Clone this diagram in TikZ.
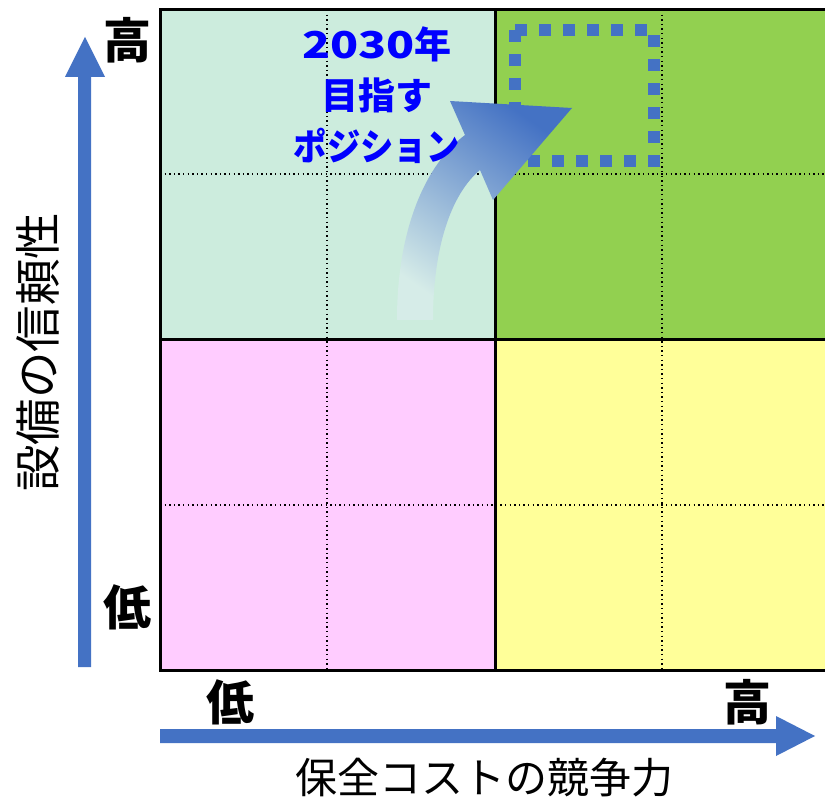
\documentclass[tikz,border=0pt]{standalone}
\usepackage{graphicx}
\usepackage{fontspec}
\newfontfamily\jp{Noto Sans CJK JP}
\definecolor{axisblue}{HTML}{4472C4}
\definecolor{qmint}{HTML}{CCECDD}
\definecolor{qgreen}{HTML}{92D050}
\definecolor{qpink}{HTML}{FFCCFF}
\definecolor{qyellow}{HTML}{FFFF99}
\definecolor{arrowlight}{HTML}{D6ECE8}
\definecolor{arrowmid}{HTML}{B3C7E6}
\definecolor{textblue}{HTML}{0000FF}
\tikzset{
  border/.style={line width=3pt, black},
  gridline/.style={line width=1.4pt, black, dash pattern=on 1.4pt off 3.2pt},
  ticklabel/.style={font=\jp\bfseries\fontsize{48}{48}\selectfont, inner sep=0pt},
  axistitle/.style={font=\jp\fontsize{44}{44}\selectfont, inner sep=0pt},
}
\begin{document}
\begin{tikzpicture}[x=1pt,y=-1pt]
\useasboundingbox (0,0) rectangle (825,799);
\fill[white] (0,0) rectangle (825,799);
% quadrants
\fill[qmint] (160,10) rectangle (495,340);
\fill[qgreen] (495,10) rectangle (825,340);
\fill[qpink] (160,340) rectangle (495,670);
\fill[qyellow] (495,340) rectangle (825,670);
% dotted grid
\draw[gridline] (327,10) -- (327,670);
\draw[gridline] (662,10) -- (662,670);
\draw[gridline] (160,174) -- (825,174);
\draw[gridline] (160,505) -- (825,505);
% borders
\draw[border] (160,10) -- (825,10);
\draw[border] (160,670) -- (825,670);
\draw[border] (160,8.5) -- (160,671.5);
\draw[border] (495,10) -- (495,670);
\draw[border] (160,340) -- (825,340);
% target dotted rectangle
\draw[axisblue, line width=12pt, dash pattern=on 12pt off 12pt] (515,30) rectangle (654,161);
% curved arrow
\shade[top color=axisblue, middle color=arrowmid, bottom color=arrowlight, shading angle=-35]
  (397,320) .. controls (397,230) and (425,165) .. (465,135)
  -- (450,101) -- (572,108) -- (493,200) -- (480,170)
  .. controls (450,195) and (433,250) .. (433,320) -- cycle;
% blue text
\node[align=center, text=textblue, inner sep=0pt, font=\jp\bfseries\fontsize{37}{51}\selectfont] (goal) at (377,95)
  {\scalebox{1.25}[1]{2030}年\\目指す\\\scalebox{0.9}[1]{ポジション}};
% axes
\fill[axisblue] (78,667) -- (78,77) -- (65,77) -- (85,37) -- (105,77) -- (91,77) -- (91,667) -- cycle;
\fill[axisblue] (160,729) -- (776,729) -- (776,716) -- (815,736) -- (776,756) -- (776,743) -- (160,743) -- cycle;
% tick labels
\node[ticklabel] (yhigh) at (127,40) {高};
\node[ticklabel] (ylow) at (127,607) {低};
\node[ticklabel] (xlow) at (230,702) {低};
\node[ticklabel] (xhigh) at (747,702) {高};
% axis titles
\node[axistitle, rotate=90, font=\jp\fontsize{46.5}{46.5}\selectfont] (ytitle) at (38,352) {設備の信頼性};
\node[axistitle, font=\jp\fontsize{42}{42}\selectfont] (xtitle) at (484,778) {保全コストの競争力};
\end{tikzpicture}
\end{document}
